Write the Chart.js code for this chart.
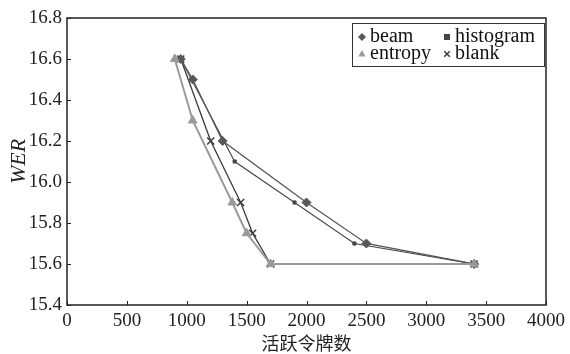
<!DOCTYPE html>
<html>
<head>
<meta charset="utf-8">
<script src="https://cdn.jsdelivr.net/npm/chart.js@4"></script>
<style>
  html, body { margin: 0; padding: 0; background: #fff; }
  #wrap { width: 570px; height: 354px; }
</style>
</head>
<body>
<div id="wrap"><canvas id="werChart" width="570" height="354"></canvas></div>
<script>
// values
const seriesNames = ['beam', 'histogram', 'entropy', 'blank'];

const beamTokens = [950, 1050, 1300, 2000, 2500, 3400];
const beamWer = [16.6, 16.5, 16.2, 15.9, 15.7, 15.6];

const histogramTokens = [950, 1400, 1900, 2400, 3400];
const histogramWer = [16.6, 16.1, 15.9, 15.7, 15.6];

const entropyTokens = [900, 1050, 1380, 1500, 1700, 3400];
const entropyWer = [16.6, 16.3, 15.9, 15.75, 15.6, 15.6];

const blankTokens = [950, 1200, 1450, 1550, 1700, 3400];
const blankWer = [16.6, 16.2, 15.9, 15.75, 15.6, 15.6];

const xTicks = [0, 500, 1000, 1500, 2000, 2500, 3000, 3500, 4000];
const yTicks = [15.4, 15.6, 15.8, 16.0, 16.2, 16.4, 16.6, 16.8];

const serif = "Liberation Serif, Times New Roman, DejaVu Serif, serif";

function toPoints(xs, ys) {
    return xs.map((x, i) => ({ x: x, y: ys[i] }));
}

const styles = [
    { color: '#585858', line: 1.3, shape: 'rectRot', radius: 4.5 },
    { color: '#444444', line: 1.1, shape: 'rect', radius: 2.2 },
    { color: '#9a9a9a', line: 2, shape: 'triangle', radius: 5 },
    { color: '#3a3a3a', line: 1.3, shape: 'crossRot', radius: 5 }
];

const seriesData = [
    toPoints(beamTokens, beamWer),
    toPoints(histogramTokens, histogramWer),
    toPoints(entropyTokens, entropyWer),
    toPoints(blankTokens, blankWer)
];

const datasets = seriesNames.map((name, i) => ({
    label: name,
    data: seriesData[i],
    borderColor: styles[i].color,
    backgroundColor: styles[i].color,
    borderWidth: styles[i].line,
    pointStyle: styles[i].shape,
    pointRadius: styles[i].radius,
    pointBackgroundColor: styles[i].color,
    pointBorderColor: styles[i].color,
    pointBorderWidth: styles[i].shape === 'crossRot' ? 1.5 : 1,
    showLine: true,
    tension: 0,
    order: name === 'entropy' ? -1 : i
}));

function drawMarker(ctx, shape, r, x, y, color) {
    ctx.save();
    ctx.fillStyle = color;
    ctx.strokeStyle = color;
    ctx.lineWidth = 1.5;
    ctx.beginPath();
    if (shape === 'rectRot') {
        ctx.moveTo(x, y - r); ctx.lineTo(x + r, y); ctx.lineTo(x, y + r); ctx.lineTo(x - r, y);
        ctx.closePath(); ctx.fill();
    } else if (shape === 'rect') {
        ctx.rect(x - r, y - r, r * 2, r * 2); ctx.fill();
    } else if (shape === 'triangle') {
        ctx.moveTo(x, y - r); ctx.lineTo(x + r * 0.9, y + r * 0.6); ctx.lineTo(x - r * 0.9, y + r * 0.6);
        ctx.closePath(); ctx.fill();
    } else {
        const d = r * 0.7;
        ctx.moveTo(x - d, y - d); ctx.lineTo(x + d, y + d);
        ctx.moveTo(x + d, y - d); ctx.lineTo(x - d, y + d);
        ctx.stroke();
    }
    ctx.restore();
}

const frame = {
    id: 'frame',
    afterDraw(chart) {
        const ctx = chart.ctx;
        const a = chart.chartArea;
        const xs = chart.scales.x, ys = chart.scales.y;
        ctx.save();
        ctx.strokeStyle = '#222';
        ctx.lineWidth = 1.5;
        ctx.strokeRect(a.left, a.top, a.right - a.left, a.bottom - a.top);
        ctx.lineWidth = 1;
        ctx.beginPath();
        xTicks.forEach(v => {
            const px = Math.round(xs.getPixelForValue(v)) + 0.5;
            ctx.moveTo(px, a.bottom); ctx.lineTo(px, a.bottom - 4);
        });
        yTicks.forEach(v => {
            const py = Math.round(ys.getPixelForValue(v)) + 0.5;
            ctx.moveTo(a.left, py); ctx.lineTo(a.left + 4, py);
        });
        ctx.stroke();

        // legend box, two columns
        const bx = 352, by = 23, bw = 192, bh = 43;
        ctx.fillStyle = '#fff';
        ctx.fillRect(bx, by, bw, bh);
        ctx.strokeStyle = '#333';
        ctx.lineWidth = 1;
        ctx.strokeRect(bx + 0.5, by + 0.5, bw, bh);
        ctx.font = '20px ' + serif;
        ctx.textBaseline = 'middle';
        const cols = [bx + 10, bx + 95];
        const rows = [by + 14, by + 31];
        seriesNames.forEach((name, i) => {
            const cx = cols[i % 2], cy = rows[Math.floor(i / 2)];
            const st = styles[i];
            drawMarker(ctx, st.shape, name === 'histogram' ? 3 : 4, cx, cy, st.color);
            ctx.fillStyle = '#111';
            ctx.fillText(name, cx + 8, cy);
        });
        ctx.restore();
    }
};

function build() {
    new Chart(document.getElementById('werChart').getContext('2d'), {
        type: 'scatter',
        data: { datasets: datasets },
        options: {
            responsive: false,
            animation: false,
            devicePixelRatio: 1,
            layout: { padding: { left: 0, top: 18, right: 22, bottom: 0 } },
            plugins: {
                legend: { display: false },
                tooltip: { enabled: false }
            },
            scales: {
                x: {
                    type: 'linear',
                    min: 0,
                    max: 4000,
                    afterFit(scale) { scale.height = 49; },
                    afterBuildTicks(scale) { scale.ticks = xTicks.map(v => ({ value: v })); },
                    grid: { display: false, drawTicks: false },
                    border: { display: false },
                    ticks: {
                        padding: 5,
                        color: '#222',
                        maxRotation: 0,
                        font: { family: serif, size: 19 },
                        callback: v => String(v)
                    },
                    title: {
                        display: true,
                        text: '活跃令牌数',
                        color: '#222',
                        padding: { top: 0, bottom: 0 },
                        font: { family: "'Noto Sans CJK SC', sans-serif", size: 18 }
                    }
                },
                y: {
                    type: 'linear',
                    min: 15.4,
                    max: 16.8,
                    afterFit(scale) { scale.width = 67; },
                    afterBuildTicks(scale) { scale.ticks = yTicks.map(v => ({ value: v })); },
                    grid: { display: false, drawTicks: false },
                    border: { display: false },
                    ticks: {
                        padding: 5,
                        color: '#222',
                        font: { family: serif, size: 19 },
                        callback: v => Number(v).toFixed(1)
                    },
                    title: {
                        display: true,
                        text: 'WER',
                        color: '#222',
                        padding: { top: 6, bottom: 0 },
                        font: { family: serif, size: 22, style: 'italic' }
                    }
                }
            }
        },
        plugins: [frame]
    });
}

if (document.fonts && document.fonts.load) {
    Promise.all([
        document.fonts.load('19px Liberation Serif'),
        document.fonts.load('italic 22px Liberation Serif')
    ]).then(build, build);
} else {
    build();
}
</script>
</body>
</html>
